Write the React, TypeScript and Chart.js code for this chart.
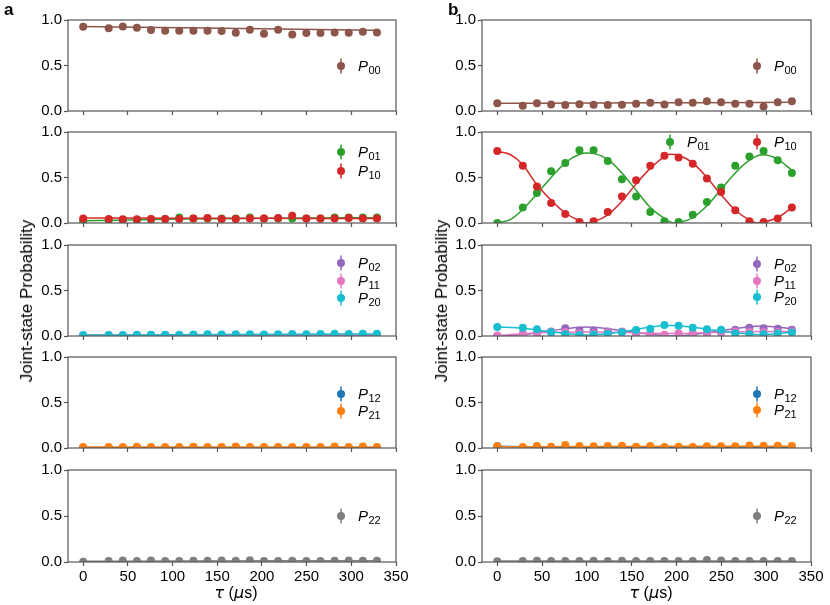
import React, { useEffect, useRef } from 'react';
import { Chart, registerables } from 'chart.js';
Chart.register(...registerables);

// ---------- data ----------
const tau = [0, 28.5, 44.3, 60.1, 75.9, 91.7, 107.5, 123.3, 139.1, 154.9, 170.7, 186.5, 202.3, 218.1, 233.9, 249.7, 265.5, 281.3, 297.1, 312.9, 328.7];
const xTicks = [0, 50, 100, 150, 200, 250, 300, 350];
const yTicks = [0, 0.5, 1];

// panel a (measured)
const aP00 = [0.925, 0.91, 0.928, 0.914, 0.889, 0.882, 0.882, 0.882, 0.882, 0.878, 0.86, 0.892, 0.849, 0.892, 0.842, 0.857, 0.857, 0.864, 0.86, 0.871, 0.864];
const aP01 = [0.02, 0.03, 0.03, 0.035, 0.04, 0.045, 0.06, 0.05, 0.05, 0.05, 0.05, 0.06, 0.05, 0.05, 0.05, 0.05, 0.05, 0.06, 0.06, 0.06, 0.06];
const aP10 = [0.05, 0.045, 0.04, 0.04, 0.045, 0.045, 0.045, 0.05, 0.054, 0.045, 0.045, 0.05, 0.05, 0.055, 0.08, 0.05, 0.05, 0.05, 0.055, 0.05, 0.05];
const aP02 = [0.003, 0.004, 0.005, 0.004, 0.006, 0.005, 0.004, 0.006, 0.005, 0.004, 0.006, 0.005, 0.006, 0.005, 0.004, 0.006, 0.005, 0.006, 0.005, 0.004, 0.005];
const aP11 = [0.006, 0.008, 0.007, 0.009, 0.008, 0.01, 0.009, 0.008, 0.01, 0.009, 0.01, 0.009, 0.01, 0.011, 0.01, 0.009, 0.011, 0.01, 0.011, 0.01, 0.011];
const aP20 = [0.012, 0.01, 0.012, 0.014, 0.013, 0.015, 0.015, 0.016, 0.018, 0.016, 0.018, 0.018, 0.016, 0.02, 0.022, 0.02, 0.022, 0.024, 0.022, 0.024, 0.024];
const aP12 = [0.003, 0.004, 0.003, 0.005, 0.004, 0.003, 0.004, 0.005, 0.004, 0.003, 0.005, 0.004, 0.003, 0.004, 0.004, 0.003, 0.004, 0.005, 0.004, 0.005, 0.003];
const aP21 = [0.01, 0.012, 0.012, 0.014, 0.012, 0.01, 0.012, 0.014, 0.012, 0.01, 0.016, 0.012, 0.01, 0.012, 0.012, 0.01, 0.012, 0.016, 0.012, 0.016, 0.01];
const aP22 = [0.004, 0.011, 0.016, 0.011, 0.016, 0.011, 0.011, 0.013, 0.013, 0.016, 0.013, 0.02, 0.011, 0.011, 0.013, 0.011, 0.011, 0.013, 0.016, 0.013, 0.013];

// panel b (measured)
const bP00 = [0.086, 0.057, 0.086, 0.072, 0.065, 0.075, 0.068, 0.065, 0.068, 0.079, 0.09, 0.072, 0.097, 0.09, 0.108, 0.097, 0.079, 0.079, 0.05, 0.097, 0.108];
const bP01 = [0.0, 0.17, 0.33, 0.57, 0.66, 0.8, 0.8, 0.68, 0.48, 0.29, 0.12, 0.02, 0.01, 0.09, 0.23, 0.39, 0.63, 0.73, 0.79, 0.69, 0.55];
const bP10 = [0.79, 0.63, 0.4, 0.22, 0.1, 0.01, 0.02, 0.12, 0.29, 0.47, 0.63, 0.74, 0.72, 0.65, 0.49, 0.34, 0.14, 0.02, 0.01, 0.05, 0.17];
const bP02 = [0.0, 0.015, 0.03, 0.05, 0.085, 0.06, 0.06, 0.05, 0.045, 0.03, 0.015, 0.008, 0.005, 0.01, 0.025, 0.04, 0.07, 0.09, 0.085, 0.08, 0.07];
const bP11 = [0.005, 0.025, 0.03, 0.04, 0.045, 0.03, 0.03, 0.04, 0.05, 0.03, 0.025, 0.015, 0.03, 0.03, 0.04, 0.04, 0.05, 0.045, 0.04, 0.045, 0.05];
const bP20 = [0.1, 0.09, 0.075, 0.04, 0.02, 0.012, 0.016, 0.025, 0.042, 0.066, 0.08, 0.12, 0.113, 0.092, 0.074, 0.07, 0.028, 0.018, 0.018, 0.028, 0.038];
const bP12 = [0.02, 0.004, 0.003, 0.004, 0.005, 0.004, 0.003, 0.004, 0.005, 0.004, 0.003, 0.004, 0.006, 0.004, 0.003, 0.004, 0.005, 0.004, 0.003, 0.004, 0.005];
const bP21 = [0.018, 0.011, 0.021, 0.014, 0.032, 0.021, 0.018, 0.021, 0.025, 0.014, 0.021, 0.011, 0.014, 0.011, 0.018, 0.018, 0.018, 0.028, 0.025, 0.025, 0.021];
const bP22 = [0.008, 0.012, 0.014, 0.01, 0.012, 0.012, 0.014, 0.012, 0.014, 0.012, 0.01, 0.01, 0.01, 0.012, 0.022, 0.016, 0.012, 0.012, 0.012, 0.01, 0.012];

// fit curves (at knots)
const fitFlatX = [0, 110, 220, 328.7];
const aFitP00 = [0.928, 0.914, 0.9, 0.886];
const aFitP01 = [0.025, 0.043, 0.053, 0.058];
const aFitP10 = [0.055, 0.053, 0.051, 0.05];
const aFitP02 = [0.004, 0.005, 0.005, 0.005];
const aFitP11 = [0.007, 0.009, 0.01, 0.011];
const aFitP20 = [0.011, 0.015, 0.019, 0.022];
const aFitP12 = [0.004, 0.004, 0.004, 0.004];
const aFitP21 = [0.011, 0.012, 0.012, 0.012];
const aFitP22 = [0.008, 0.012, 0.013, 0.013];
const bFitP00 = [0.085, 0.088, 0.092, 0.096];
const bFitP12 = [0.018, 0.004, 0.004, 0.004];
const bFitP21 = [0.014, 0.017, 0.018, 0.019];
const bFitP22 = [0.01, 0.012, 0.012, 0.012];

const bFitP01X = [0, 15, 28.5, 44.3, 60.1, 75.9, 91.7, 100, 107.5, 123.3, 139.1, 154.9, 170.7, 186.5, 197, 202.3, 218.1, 233.9, 249.7, 265.5, 281.3, 292, 297.1, 312.9, 328.7];
const bFitP01 = [0, 0.04, 0.15, 0.32, 0.5, 0.66, 0.755, 0.77, 0.765, 0.7, 0.55, 0.36, 0.17, 0.05, 0.0, 0.005, 0.06, 0.19, 0.37, 0.55, 0.69, 0.745, 0.75, 0.7, 0.58];
const bFitP10X = [0, 15, 28.5, 44.3, 60.1, 75.9, 91.7, 98, 107.5, 123.3, 139.1, 154.9, 170.7, 186.5, 193, 202.3, 218.1, 233.9, 249.7, 265.5, 281.3, 290, 297.1, 312.9, 328.7];
const bFitP10 = [0.785, 0.75, 0.64, 0.42, 0.25, 0.11, 0.025, 0.0, 0.015, 0.09, 0.24, 0.43, 0.6, 0.73, 0.755, 0.745, 0.66, 0.5, 0.31, 0.14, 0.035, 0.0, 0.01, 0.06, 0.17];
const bFitSmallX = [0, 28.5, 60.1, 100, 139.1, 170.7, 195, 218.1, 249.7, 295, 328.7];
const bFitP02 = [0.0, 0.015, 0.06, 0.1, 0.06, 0.02, 0.0, 0.015, 0.06, 0.11, 0.08];
const bFitP11 = [0.005, 0.025, 0.04, 0.045, 0.04, 0.03, 0.028, 0.032, 0.042, 0.05, 0.05];
const bFitP20 = [0.1, 0.085, 0.045, 0.012, 0.045, 0.1, 0.115, 0.095, 0.055, 0.015, 0.04];

// ---------- styling ----------
const C = {
  brown: '#8c564b', green: '#2ca02c', red: '#d62728', purple: '#9467bd',
  pink: '#e377c2', cyan: '#17becf', blue: '#1f77b4', orange: '#ff7f0e', gray: '#7f7f7f',
};
const FONT = "'Liberation Sans', Arial, sans-serif";
const SPINE = '#555555';

type Series = { color: string; pts: number[]; fx: number[]; fy: number[] };
type Leg = { sub: string; color: string; dx: number; dy: number };
type Panel = { col: number; row: number; series: Series[]; legend: Leg[] };

const LX = [273, 275];
const panels: Panel[] = [
  { col: 0, row: 0, series: [{ color: C.brown, pts: aP00, fx: fitFlatX, fy: aFitP00 }], legend: [{ sub: '00', color: C.brown, dx: LX[0], dy: 46 }] },
  { col: 0, row: 1, series: [
      { color: C.green, pts: aP01, fx: fitFlatX, fy: aFitP01 },
      { color: C.red, pts: aP10, fx: fitFlatX, fy: aFitP10 }],
    legend: [{ sub: '01', color: C.green, dx: LX[0], dy: 20 }, { sub: '10', color: C.red, dx: LX[0], dy: 39 }] },
  { col: 0, row: 2, series: [
      { color: C.purple, pts: aP02, fx: fitFlatX, fy: aFitP02 },
      { color: C.pink, pts: aP11, fx: fitFlatX, fy: aFitP11 },
      { color: C.cyan, pts: aP20, fx: fitFlatX, fy: aFitP20 }],
    legend: [{ sub: '02', color: C.purple, dx: LX[0], dy: 18 }, { sub: '11', color: C.pink, dx: LX[0], dy: 36 }, { sub: '20', color: C.cyan, dx: LX[0], dy: 53 }] },
  { col: 0, row: 3, series: [
      { color: C.blue, pts: aP12, fx: fitFlatX, fy: aFitP12 },
      { color: C.orange, pts: aP21, fx: fitFlatX, fy: aFitP21 }],
    legend: [{ sub: '12', color: C.blue, dx: LX[0], dy: 37 }, { sub: '21', color: C.orange, dx: LX[0], dy: 54 }] },
  { col: 0, row: 4, series: [{ color: C.gray, pts: aP22, fx: fitFlatX, fy: aFitP22 }], legend: [{ sub: '22', color: C.gray, dx: LX[0], dy: 46 }] },

  { col: 1, row: 0, series: [{ color: C.brown, pts: bP00, fx: fitFlatX, fy: bFitP00 }], legend: [{ sub: '00', color: C.brown, dx: LX[1], dy: 46 }] },
  { col: 1, row: 1, series: [
      { color: C.green, pts: bP01, fx: bFitP01X, fy: bFitP01 },
      { color: C.red, pts: bP10, fx: bFitP10X, fy: bFitP10 }],
    legend: [{ sub: '01', color: C.green, dx: 188, dy: 10 }, { sub: '10', color: C.red, dx: LX[1], dy: 10 }] },
  { col: 1, row: 2, series: [
      { color: C.purple, pts: bP02, fx: bFitSmallX, fy: bFitP02 },
      { color: C.pink, pts: bP11, fx: bFitSmallX, fy: bFitP11 },
      { color: C.cyan, pts: bP20, fx: bFitSmallX, fy: bFitP20 }],
    legend: [{ sub: '02', color: C.purple, dx: LX[1], dy: 19 }, { sub: '11', color: C.pink, dx: LX[1], dy: 36 }, { sub: '20', color: C.cyan, dx: LX[1], dy: 52 }] },
  { col: 1, row: 3, series: [
      { color: C.blue, pts: bP12, fx: fitFlatX, fy: bFitP12 },
      { color: C.orange, pts: bP21, fx: fitFlatX, fy: bFitP21 }],
    legend: [{ sub: '12', color: C.blue, dx: LX[1], dy: 37 }, { sub: '21', color: C.orange, dx: LX[1], dy: 53 }] },
  { col: 1, row: 4, series: [{ color: C.gray, pts: bP22, fx: fitFlatX, fy: bFitP22 }], legend: [{ sub: '22', color: C.gray, dx: LX[1], dy: 46 }] },
];

// ---------- layout ----------
const PLOT_LEFT = [68, 482];
const PLOT_W = [328, 329];
const PLOT_TOP = [19, 131, 244, 356, 469];
const PLOT_H = 93;
const AX_W = 60;
const PAD_TOP = 10;
const PAD_RIGHT = 16;
const TICK_SIZE = 15;

const framePlugin = {
  id: 'frame',
  afterDraw(chart: any) {
    const { ctx, chartArea: a } = chart;
    ctx.save();
    ctx.strokeStyle = SPINE;
    ctx.lineWidth = 1.2;
    ctx.strokeRect(a.left, a.top, a.right - a.left, a.bottom - a.top);
    const items: Leg[] = chart.options.plugins.customLegend?.items || [];
    items.forEach((it) => {
      const x = a.left + it.dx;
      const y = a.top + it.dy;
      ctx.strokeStyle = it.color;
      ctx.lineWidth = 1.5;
      ctx.beginPath();
      ctx.moveTo(x, y - 7.5);
      ctx.lineTo(x, y + 7.5);
      ctx.stroke();
      ctx.fillStyle = it.color;
      ctx.beginPath();
      ctx.arc(x, y, 4, 0, Math.PI * 2);
      ctx.fill();
      ctx.fillStyle = '#000';
      ctx.textBaseline = 'alphabetic';
      ctx.textAlign = 'left';
      ctx.font = `italic 15px ${FONT}`;
      ctx.fillText('P', x + 17, y + 5);
      const w = ctx.measureText('P').width;
      ctx.font = `11px ${FONT}`;
      ctx.fillText(it.sub, x + 17 + w + 0.5, y + 8);
    });
    ctx.restore();
  },
};

function PanelChart({ p }: { p: Panel }) {
  const ref = useRef<HTMLCanvasElement>(null);
  const isBottom = p.row === 4;
  const xh = isBottom ? 28 : 10;
  const width = AX_W + PLOT_W[p.col] + PAD_RIGHT;
  const height = PAD_TOP + PLOT_H + xh;
  useEffect(() => {
    if (!ref.current) return;
    const datasets: any[] = [];
    const n = p.series.length;
    p.series.forEach((s, i) => {
      datasets.push({
        type: 'line',
        data: s.fx.map((x, k) => ({ x, y: s.fy[k] })),
        borderColor: s.color,
        borderWidth: 1.5,
        pointRadius: 0,
        pointHoverRadius: 0,
        cubicInterpolationMode: 'monotone',
        fill: false,
        clip: 0,
        order: 20 + (n - i),
      });
      datasets.push({
        type: 'scatter',
        data: tau.map((x, k) => ({ x, y: s.pts[k] })),
        backgroundColor: s.color,
        borderColor: s.color,
        pointRadius: 4,
        pointHoverRadius: 4,
        pointBorderWidth: 0,
        showLine: false,
        clip: 0,
        order: 10 + (n - i),
      });
    });
    const tickFont = { family: FONT, size: TICK_SIZE };
    const grid = { drawOnChartArea: false, drawTicks: true, tickLength: 4, tickColor: SPINE, tickWidth: 1.2 };
    const chart = new Chart(ref.current, {
      type: 'scatter',
      data: { datasets },
      options: {
        responsive: false,
        animation: false,
        devicePixelRatio: 1,
        events: [],
        layout: { padding: { top: PAD_TOP, right: PAD_RIGHT, left: 0, bottom: 0 } },
        plugins: {
          legend: { display: false },
          tooltip: { enabled: false },
          customLegend: { items: p.legend },
        } as any,
        scales: {
          x: {
            type: 'linear', min: -17, max: 350,
            afterBuildTicks: (s: any) => { s.ticks = xTicks.map((v) => ({ value: v })); },
            afterFit: (s: any) => { s.height = xh; },
            grid, border: { display: false },
            ticks: { display: isBottom, font: tickFont, color: '#000', padding: 2, maxRotation: 0, autoSkip: false, callback: (v: any) => String(v) },
          },
          y: {
            type: 'linear', min: 0, max: 1,
            afterBuildTicks: (s: any) => { s.ticks = yTicks.map((v) => ({ value: v })); },
            afterFit: (s: any) => { s.width = AX_W; },
            grid, border: { display: false },
            ticks: { font: tickFont, color: '#000', padding: 2, callback: (v: any) => Number(v).toFixed(1) },
          },
        },
      } as any,
      plugins: [framePlugin],
    });
    return () => chart.destroy();
  }, []);
  return (
    <canvas
      ref={ref}
      width={width}
      height={height}
      style={{ position: 'absolute', left: PLOT_LEFT[p.col] - AX_W, top: PLOT_TOP[p.row] - PAD_TOP, width, height }}
    />
  );
}

const labelStyle: React.CSSProperties = { position: 'absolute', fontFamily: FONT, color: '#000', whiteSpace: 'nowrap', lineHeight: '18px' };
const mathStyle: React.CSSProperties = { fontFamily: "'DejaVu Sans', sans-serif", fontStyle: 'italic' };

export default function App() {
  return (
    <div style={{ position: 'absolute', left: 0, top: 0, width: 830, height: 605, background: '#fff', overflow: 'hidden' }}>
      {panels.map((p, i) => <PanelChart key={i} p={p} />)}
      <div style={{ ...labelStyle, left: 4, top: 1, fontSize: 17, fontWeight: 'bold', lineHeight: '17px' }}>a</div>
      <div style={{ ...labelStyle, left: 448, top: 1, fontSize: 17, fontWeight: 'bold', lineHeight: '17px' }}>b</div>
      {[27, 442].map((x, i) => (
        <div key={'yl' + i} style={{ ...labelStyle, left: x, top: 301, fontSize: 17, transform: 'translate(-50%, -50%) rotate(-90deg)' }}>
          Joint-state Probability
        </div>
      ))}
      {[236, 651].map((x, i) => (
        <div key={'xl' + i} style={{ ...labelStyle, left: x, top: 593, fontSize: 16, transform: 'translate(-50%, -50%)' }}>
          <span style={mathStyle}>τ</span> (<span style={mathStyle}>μ</span>s)
        </div>
      ))}
    </div>
  );
}
